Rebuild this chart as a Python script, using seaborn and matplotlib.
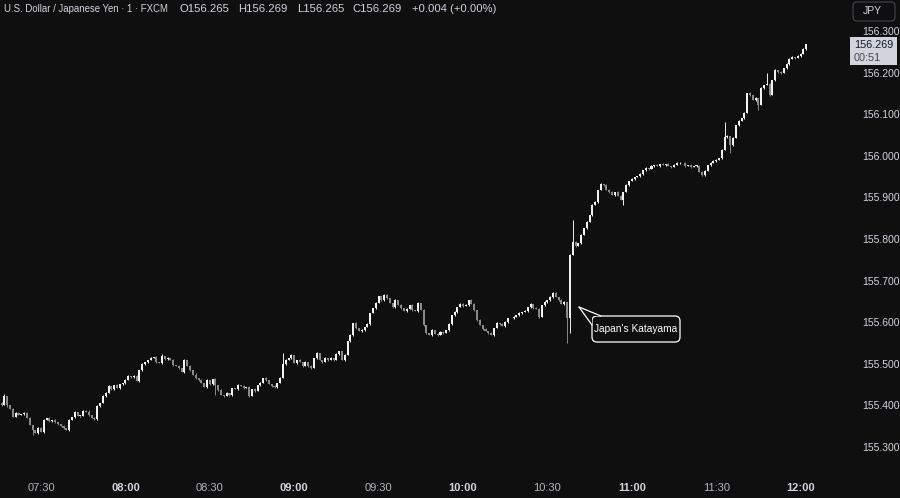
import numpy as np
import pandas as pd
import seaborn as sns
import matplotlib
matplotlib.use("Agg")
import matplotlib.pyplot as plt
from matplotlib.patches import FancyBboxPatch, Polygon, Rectangle
from matplotlib.lines import Line2D
from matplotlib.transforms import IdentityTransform

# ---------------- data (1-minute USDJPY, prices in thousandths above 155.000) -------------
start_minute = -14          # first candle 07:16 (minutes relative to 07:30)
first_open = 405
closes = [
    401, 422, 400, 392, 373, 382, 378, 380, 382, 370, 353, 341, 334, 346,
    336, 365, 370, 362, 365, 360, 355, 350, 346, 341, 365, 372, 384,
    375, 375, 387, 385, 377, 370, 367, 399, 406, 423, 430, 447, 440, 449, 442, 451, 454, 461, 471, 468, 471, 459, 485, 499,
    504, 509, 514, 516, 504, 502, 519, 511, 514, 509, 497, 495, 490, 480, 509, 495, 485, 473, 466, 461, 454, 444, 461, 451, 463,
    449, 437, 425, 423, 430, 425, 442, 440, 449, 447, 442, 444, 423, 440, 435, 449, 454, 466, 461, 451, 447, 444, 454, 466, 499,
    509, 514, 521, 502, 509, 504, 495, 504, 495, 490, 514, 526, 509, 504, 514, 509, 514, 509, 523, 530, 509, 521, 555, 569, 598,
    586, 579, 581, 589, 596, 622, 634, 646, 663, 653, 665, 658, 646, 636, 653, 641, 634, 627, 632, 641, 629, 627, 646, 629, 593,
    574, 569, 581, 572, 569, 577, 574, 581, 596, 617, 624, 636, 644, 639, 641, 653, 644, 629, 605, 593, 584, 579, 574, 569, 586,
    598, 596, 591, 601, 610, 610, 613, 617, 622, 624, 627, 636, 644, 634, 632, 613, 641, 648, 653, 660, 670, 660, 653, 644, 648,
    610, 762, 793, 783, 790, 810, 826, 841, 858, 882, 889, 918, 932, 930, 918, 913, 906, 913, 904, 894, 913, 930, 940, 944, 949,
    951, 956, 966, 971, 968, 976, 978, 976, 980, 978, 980, 976, 973, 978, 983, 983, 983, 976, 978, 973, 976, 976, 961, 954, 964,
    978, 983, 988, 990, 995, 1014, 1045, 1048, 1026, 1043, 1074, 1083, 1091, 1103, 1151, 1146, 1134, 1139, 1122, 1163, 1170, 1172, 1146, 1182, 1206,
    1201, 1199, 1211, 1221, 1233, 1237, 1235, 1240, 1245, 1257, 1269,
]
wick_up = ("3202131012 2103120213 1020312101 2302102310 1201320121 2013021203 1202130214 "
           "0312012031 2101302120 3120211302 1203102130 2130120213 1021302120 3102103210 "
           "2130212031 2012031202 1302120310 2120312021 1031202130 2102130212 3021203120 "
           "1203021302 2130210312 0213021203 1302120312 2031203120 3120213021 2013021302 1302120")
wick_dn = ("2130212031 1203120213 2031202130 1202130212 3021203102 2130120312 0213021203 "
           "2102130212 1320213021 2031202130 1203120213 3021302120 2130213021 1203021302 "
           "2031203120 1302130212 2120312031 0213021302 2130120213 1203212031 2021302120 "
           "3120213021 1302130212 2031202130 1203120213 3021302120 2130213021 1203021302 2031203")
high_override = {-13: 428, 43: 523, 86: 526, 182: 673, 189: 846, 243: 1081, 258: 1199}
low_override = {-3: 330, 62: 425, 187: 550, 188: 575, 207: 882, 245: 1007, 255: 1110}

tick_minutes = [0, 30, 60, 90, 120, 150, 180, 210, 240, 270]
tick_labels = ["07:30", "08:00", "08:30", "09:00", "09:30", "10:00", "10:30", "11:00", "11:30", "12:00"]
price_ticks = [155.3, 155.4, 155.5, 155.6, 155.7, 155.8, 155.9, 156.0, 156.1, 156.2, 156.3]

symbol = "U.S. Dollar / Japanese Yen · 1 · FXCM"
ohlc_parts = ["O156.265", "H156.269", "L156.265", "C156.269", "+0.004 (+0.00%)"]
last_price = "156.269"
countdown = "00:51"
note = "Japan's Katayama"

# ---------------- build the table -----------------
wu = [int(c) for c in wick_up.replace(" ", "")]
wd = [int(c) for c in wick_dn.replace(" ", "")]
n = len(closes)
assert len(wu) == n and len(wd) == n
minute = list(range(start_minute, start_minute + n))
opens = [first_open] + closes[:-1]
highs, lows = [], []
for i, m in enumerate(minute):
    top = max(opens[i], closes[i]); bot = min(opens[i], closes[i])
    highs.append(high_override.get(m, top + wu[i]))
    lows.append(low_override.get(m, bot - wd[i]))
df = pd.DataFrame({"minute": minute,
                   "open": 155 + np.array(opens) / 1000,
                   "close": 155 + np.array(closes) / 1000,
                   "high": 155 + np.array(highs) / 1000,
                   "low": 155 + np.array(lows) / 1000})
df["up"] = df["close"] >= df["open"]

# ---------------- style -----------------
BG = "#0f0f0f"
BULL = "#f2f2f2"
BEAR = "#8a8a8a"
TXT = "#d1d4dc"
AXT = "#b2b5be"
sns.set_theme(style="dark", rc={"axes.facecolor": BG, "figure.facecolor": BG,
                                "axes.grid": False})
plt.rcParams["font.family"] = ["Liberation Sans", "DejaVu Sans"]

W, H = 900, 498
fig = plt.figure(figsize=(W / 100, H / 100), dpi=100)
ax = fig.add_axes([0, 23 / H, 848 / W, 475 / H])
ax.set_facecolor(BG)

px_per_min = 84.4 / 30
ax.set_xlim(-41 / px_per_min, (848 - 41) / px_per_min)
ax.set_ylim(156.3 - (475 - 31) / 416, 156.3 + 31 / 416)

colors = np.where(df["up"], BULL, BEAR)
ax.vlines(df["minute"], df["low"], df["high"], colors=colors, linewidth=0.7, zorder=2)
body = (df["close"] - df["open"]).abs().clip(lower=0.0008)
ax.bar(df["minute"], body, bottom=df[["open", "close"]].min(axis=1), width=0.72,
       color=colors, linewidth=0, zorder=3)

for s in ax.spines.values():
    s.set_visible(False)

ax.set_xticks(tick_minutes)
ax.set_xticklabels(tick_labels)
for lab, txt in zip(ax.get_xticklabels(), tick_labels):
    lab.set_fontweight("bold" if txt.endswith(":00") else "normal")
    lab.set_color(AXT if not txt.endswith(":00") else TXT)
ax.tick_params(axis="x", length=0, pad=6, labelsize=8)

ax.yaxis.tick_right()
ax.set_yticks(price_ticks)
ax.set_yticklabels([f"{p:.3f}" for p in price_ticks])
ax.tick_params(axis="y", length=0, pad=10, labelsize=7.5, labelcolor=TXT)

# ---------------- header / overlays -----------------
ID = IdentityTransform()
def P(x, y):
    return (x, H - y)

fig.text(4 / W, 1 - 9 / H, symbol, color=TXT, fontsize=6.9, va="center", ha="left")
for xpos, part in zip([180, 238, 297, 352, 412], ohlc_parts):
    fig.text(xpos / W, 1 - 9 / H, part, color=TXT, fontsize=8.1, va="center", ha="left")

# currency box
fig.patches.append(FancyBboxPatch(P(853, 21), 42, 19, boxstyle="round,pad=0,rounding_size=4",
                                  transform=ID, facecolor=BG, edgecolor="#434651", linewidth=0.8))
fig.text(863 / W, 1 - 11 / H, "JPY", color=TXT, fontsize=7.5, va="center", ha="left")

# last price label
fig.patches.append(Rectangle(P(850, 65), 47, 28, transform=ID, facecolor="#d1d4dc",
                             edgecolor="none"))
fig.text(854 / W, 1 - 45 / H, last_price, color="#131722", fontsize=7.8, va="center", ha="left")
fig.text(854 / W, 1 - 58 / H, countdown, color="#434651", fontsize=7.8, va="center", ha="left")

# callout
fig.patches.append(FancyBboxPatch(P(592, 342), 88, 26, boxstyle="round,pad=0,rounding_size=5",
                                  transform=ID, facecolor=BG, edgecolor="white", linewidth=0.9,
                                  zorder=5))
fig.patches.append(Polygon([P(579, 307), P(601, 316), P(592, 316), P(592, 325)], closed=True,
                           transform=ID, facecolor=BG, edgecolor="none", zorder=6))
fig.lines.append(Line2D([579, 601], [H - 307, H - 316], transform=ID, color="white",
                        linewidth=0.9, zorder=7))
fig.lines.append(Line2D([579, 592], [H - 307, H - 325], transform=ID, color="white",
                        linewidth=0.9, zorder=7))
fig.text(636 / W, 1 - 329 / H, note, color="white", fontsize=7.3, va="center", ha="center",
         zorder=8)

fig.savefig("out.png", dpi=100, facecolor=BG)
